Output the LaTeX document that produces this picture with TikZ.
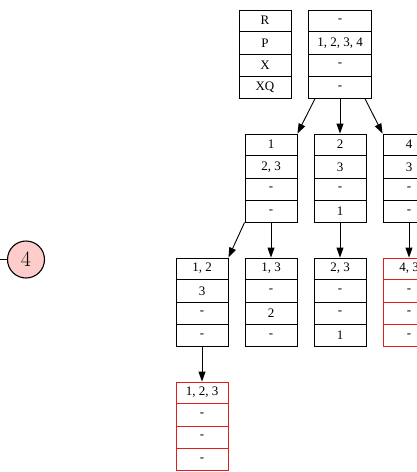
\documentclass[tikz,border=0pt]{standalone}
\usepackage{fontspec}
\setmainfont{Liberation Serif}
\newfontfamily\lmfont{Latin Modern Roman}
\usetikzlibrary{arrows.meta,calc}
\definecolor{redc}{RGB}{225,30,30}
\tikzset{
  tbl/.style={draw, line width=0.9pt, minimum height=88pt, inner sep=0pt},
  cell/.style={inner sep=0pt, font=\fontsize{13}{15}\selectfont},
  arr/.style={line width=0.9pt, -{Triangle[length=10pt,width=7pt]}},
  bubble/.style={circle, draw, line width=1.1pt, fill=red!20, minimum size=37pt, inner sep=0pt, font=\lmfont\fontsize{22}{26}\selectfont}
}
\newcommand\mytable[8]{%
  \node[tbl,#3,minimum width=#4] (#1) at (#2) {};
  \foreach \f in {0.25,0.5,0.75}
    \draw[line width=0.9pt,#3] ($(#1.north west)!\f!(#1.south west)$) -- ($(#1.north east)!\f!(#1.south east)$);
  \node[cell] at ($(#1.north)!0.125!(#1.south)$) {#5};
  \node[cell] at ($(#1.north)!0.375!(#1.south)$) {#6};
  \node[cell] at ($(#1.north)!0.625!(#1.south)$) {#7};
  \node[cell] at ($(#1.north)!0.875!(#1.south)$) {#8};
}
\begin{document}
\begin{tikzpicture}[x=1pt,y=-1pt]
\useasboundingbox (0,0) rectangle (416,472);
% legend
\mytable{leg}{265,54}{draw=black}{52pt}{R}{P}{X}{XQ}
% root
\mytable{root}{340,54}{draw=black}{63pt}{-}{1, 2, 3, 4}{-}{-}
% level 2
\mytable{na}{271,178}{draw=black}{52pt}{1}{2, 3}{-}{-}
\mytable{nb}{340,178}{draw=black}{52pt}{2}{3}{-}{1}
\mytable{nc}{409,178}{draw=black}{52pt}{4}{3}{-}{-}
% level 3
\mytable{naa}{202,302}{draw=black}{52pt}{1, 2}{3}{-}{-}
\mytable{nab}{271,302}{draw=black}{52pt}{1, 3}{-}{2}{-}
\mytable{nba}{340,302}{draw=black}{52pt}{2, 3}{-}{-}{1}
\mytable{nca}{409,302}{draw=redc}{52pt}{4, 3}{-}{-}{-}
% level 4
\mytable{naaa}{202,426}{draw=redc}{52pt}{1, 2, 3}{-}{-}{-}
% edges
\draw[arr] ($(root.south west)+(7,0)$) -- (na.north east);
\draw[arr] (root.south) -- (nb.north);
\draw[arr] ($(root.south east)+(-7,0)$) -- (nc.north west);
\draw[arr] (na.south west) -- (naa.north east);
\draw[arr] (na.south) -- (nab.north);
\draw[arr] (nb.south) -- (nba.north);
\draw[arr] (nc.south) -- (nca.north);
\draw[arr] (naa.south) -- (naaa.north);
% bubble
\node[bubble] (c4) at (26,259.5) {4};
\coordinate (cl) at (-2,259.5);
\draw[line width=1.1pt] (cl) -- (c4.west);
\end{tikzpicture}
\end{document}
